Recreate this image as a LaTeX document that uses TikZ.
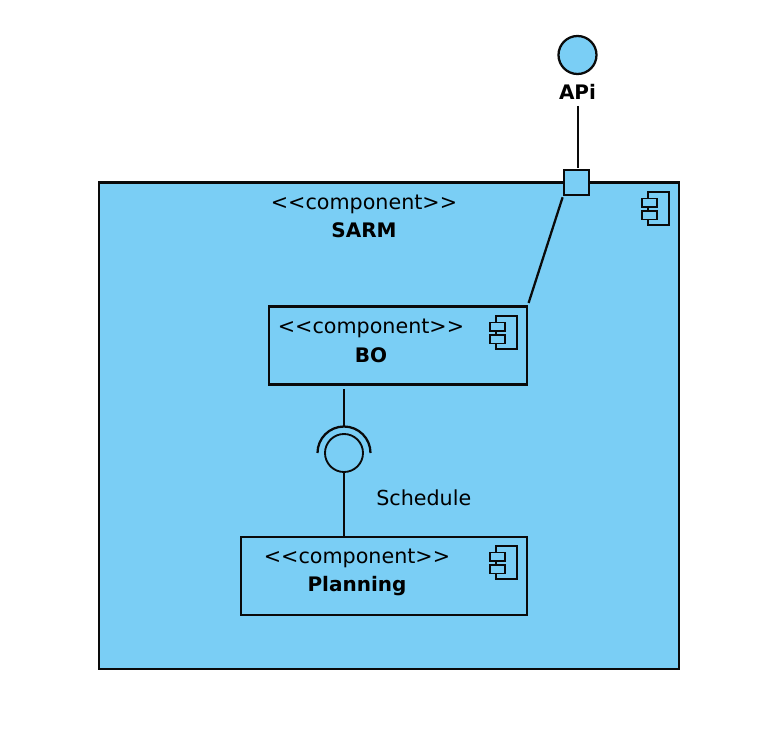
\documentclass[tikz,border=0pt]{standalone}
\usepackage{fontspec}
\setmainfont{DejaVu Sans}
\usetikzlibrary{positioning}
\definecolor{compblue}{HTML}{7ACEF5}
\definecolor{compline}{HTML}{0A0A0A}
\newcommand{\stereo}{<{}<component>{}>}
\tikzset{
  comp/.style={rectangle, draw=compline, fill=compblue, line width=1.7pt, inner sep=0pt, anchor=north west},
  port/.style={rectangle, draw=compline, fill=compblue, line width=1.7pt, inner sep=0pt, minimum size=18.5pt},
  iface/.style={circle, draw=compline, fill=compblue, line width=1.7pt, inner sep=0pt, minimum size=28.5pt},
  lbl/.style={font=\fontsize{15.5}{20.5}\selectfont, text=black, align=center, inner sep=0pt},
  compname/.style={font=\fontsize{15}{20}\selectfont\bfseries, text=black, inner sep=0pt},
  wire/.style={draw=compline, line width=1.7pt},
  icon/.pic={
    \draw[wire, line width=1.4pt] (6,0) rectangle (27,33);
    \draw[wire, line width=1.4pt, fill=compblue] (0,6.5) rectangle (15,15);
    \draw[wire, line width=1.4pt, fill=compblue] (0,19) rectangle (15,27.5);
  },
}
\begin{document}
\begin{tikzpicture}[x=0.75pt, y=-0.75pt]
  \useasboundingbox (0,0) rectangle (760,748);
  % outer component
  \node[comp, minimum width=435pt, minimum height=364.5pt] (sarm) at (97.5,181.5) {};
  \node[lbl] (sarmtext) at (364,204) {\stereo};
  \node[compname, below=6.75pt of sarmtext] (sarmname) {SARM};
  \pic at (642,192) {icon};
  % inner components
  \node[comp, minimum width=193.5pt, minimum height=58.5pt] (bo) at (267.5,305.5) {};
  \node[lbl] (botext) at (371,328) {\stereo};
  \node[compname, below=7.5pt of botext] (boname) {BO};
  \pic at (490,316) {icon};
  \node[comp, minimum width=214.5pt, minimum height=58.5pt] (planning) at (239.5,535.5) {};
  \node[lbl] (planningtext) at (357,558) {\stereo};
  \node[compname, below=6pt of planningtext] (planningname) {Planning};
  \pic at (490,546) {icon};
  % interface on the boundary
  \node[port] (apiport) at (576.5,182.5) {};
  \node[iface] (api) at (577.5,55) {};
  \node[compname, below=6.75pt of api] (apiname) {APi};
  \coordinate (apifree) at (578,106);
  \draw[wire, shorten >=1pt] (apifree) -- (apifree |- apiport.north);
  \draw[wire, shorten <=1pt, shorten >=2pt] (apiport.south west) -- (bo.north east);
  % schedule lollipop
  \node[iface, line width=1.4pt] (sched) at (344,453) {};
  \coordinate (bofree) at (344,389);
  \draw[wire] (bofree) -- (344,427);
  \draw[wire] (317.5,453) arc[start angle=180, end angle=360, radius=26.5];
  \draw[wire] (sched.south) -- (sched.south |- planning.north);
  \node[lbl, anchor=west] (schedtext) at (376,498) {Schedule};
\end{tikzpicture}
\end{document}
